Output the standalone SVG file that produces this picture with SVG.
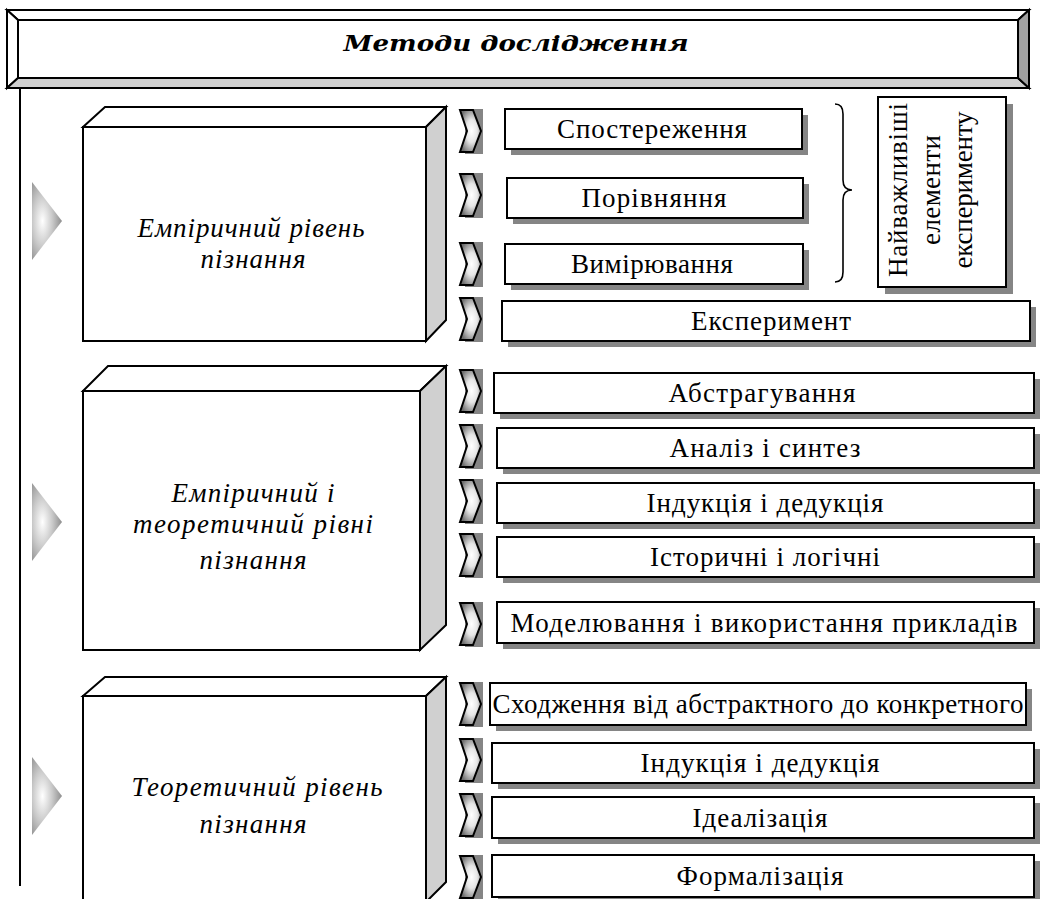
<svg xmlns="http://www.w3.org/2000/svg" xmlns:xlink="http://www.w3.org/1999/xlink" width="1040" height="899" viewBox="0 0 1040 899">
<defs>
<style>
.ln{stroke:#000;stroke-width:2;stroke-linejoin:miter}
.face{fill:#fff;stroke:#000;stroke-width:2}
.side{fill:#d0d0d0;stroke:#000;stroke-width:2}
.sh{fill:#858585}
.box{fill:#fff;stroke:#000;stroke-width:2}
.t{font-family:"Liberation Serif","Times New Roman",serif;font-size:27px;fill:#000;text-anchor:middle}
.it{font-family:"Liberation Serif","Times New Roman",serif;font-size:27px;font-style:italic;fill:#000;text-anchor:middle}
.hd{font-family:"DejaVu Serif",serif;font-size:23px;font-weight:bold;font-style:italic;fill:#000;text-anchor:middle}
</style>
<radialGradient id="chevG" cx="0.55" cy="0.5" r="0.6">
<stop offset="0" stop-color="#ffffff"/>
<stop offset="0.45" stop-color="#e6e6e6"/>
<stop offset="1" stop-color="#6e6e6e"/>
</radialGradient>
<radialGradient id="triG" cx="0.35" cy="0.5" r="0.75">
<stop offset="0" stop-color="#ffffff"/>
<stop offset="0.45" stop-color="#c8c8c8"/>
<stop offset="1" stop-color="#7a7a7a"/>
</radialGradient>
<g id="chev">
<rect x="5" y="-1" width="18" height="45" class="sh"/>
<polygon points="0,0 13,0 21,21 13,42 0,42 7,21" fill="url(#chevG)" stroke="#000" stroke-width="2"/>
</g>
<polygon id="tri" points="0,0 30,39 0,78" fill="url(#triG)"/>
</defs>

<g id="header">
<polygon points="7,10 1029,10 1018,20 18,20" fill="#fff" class="ln"/>
<polygon points="7,10 18,20 18,78 7,88" fill="#fff" class="ln"/>
<polygon points="7,88 18,78 1018,78 1029,88" fill="#d0d0d0" class="ln"/>
<polygon points="1029,10 1029,88 1018,78 1018,20" fill="#a0a0a0" class="ln"/>
<rect x="18" y="20" width="1000" height="58" fill="#fff" class="ln"/>
<text x="516" y="51" class="hd" textLength="345" lengthAdjust="spacingAndGlyphs">Методи дослідження</text>
</g>

<g id="connectors">
<line x1="20" y1="88" x2="20" y2="886" stroke="#000" stroke-width="2"/>
<use xlink:href="#tri" x="32" y="182"/>
<use xlink:href="#tri" x="32" y="483"/>
<use xlink:href="#tri" x="32" y="757"/>
<use xlink:href="#chev" x="460" y="110"/>
<use xlink:href="#chev" x="460" y="174"/>
<use xlink:href="#chev" x="460" y="243"/>
<use xlink:href="#chev" x="460" y="298"/>
<use xlink:href="#chev" x="460" y="370"/>
<use xlink:href="#chev" x="460" y="425"/>
<use xlink:href="#chev" x="460" y="480"/>
<use xlink:href="#chev" x="460" y="534"/>
<use xlink:href="#chev" x="460" y="603"/>
<use xlink:href="#chev" x="460" y="683"/>
<use xlink:href="#chev" x="460" y="739"/>
<use xlink:href="#chev" x="460" y="794"/>
<use xlink:href="#chev" x="460" y="856"/>
<path id="brace" d="M835,104 Q843,104 843,114 L843,180 Q843,190 852,190 Q843,190 843,200 L843,272 Q843,282 835,282" fill="none" stroke="#000" stroke-width="1.6"/>
</g>

<g id="level-empirical">
<polygon points="83,127 105,107 446,107 426,127" class="face"/>
<polygon points="426,127 446,107 446,320 426,341" class="side"/>
<rect x="83" y="127" width="343" height="214" class="face"/>
<text x="251" y="237" class="it" textLength="227" lengthAdjust="spacing">Емпіричний рівень</text>
<text x="253" y="268" class="it" textLength="105" lengthAdjust="spacing">пізнання</text>
</g>

<g id="level-mixed">
<polygon points="83,391 108,366 446,366 420,391" class="face"/>
<polygon points="420,391 446,366 446,625 420,650" class="side"/>
<rect x="83" y="391" width="337" height="259" class="face"/>
<text x="253" y="502" class="it" textLength="163" lengthAdjust="spacing">Емпіричний і</text>
<text x="253" y="533" class="it" textLength="240" lengthAdjust="spacing">теоретичний рівні</text>
<text x="253" y="569" class="it" textLength="107" lengthAdjust="spacing">пізнання</text>
</g>

<g id="level-theoretical">
<polygon points="83,696 105,677 446,677 426,696" class="face"/>
<polygon points="426,696 446,677 446,882 426,902" class="side"/>
<rect x="83" y="696" width="343" height="210" class="face"/>
<text x="257" y="796" class="it" textLength="251" lengthAdjust="spacing">Теоретичний рівень</text>
<text x="253" y="833" class="it" textLength="107" lengthAdjust="spacing">пізнання</text>
</g>

<g id="m-observation">
<rect x="511" y="115" width="297" height="40" class="sh"/>
<rect x="505" y="109" width="297" height="40" class="box"/>
<text x="652" y="138" class="t" textLength="190" lengthAdjust="spacing">Спостереження</text>
</g>
<g id="m-comparison">
<rect x="513" y="184" width="296" height="40" class="sh"/>
<rect x="507" y="178" width="296" height="40" class="box"/>
<text x="654" y="207" class="t" textLength="145" lengthAdjust="spacing">Порівняння</text>
</g>
<g id="m-measurement">
<rect x="511" y="250" width="298" height="40" class="sh"/>
<rect x="505" y="244" width="298" height="40" class="box"/>
<text x="652" y="273" class="t" textLength="162" lengthAdjust="spacing">Вимірювання</text>
</g>
<g id="m-experiment">
<rect x="508" y="307" width="528" height="40" class="sh"/>
<rect x="502" y="301" width="528" height="40" class="box"/>
<text x="771" y="330" class="t" textLength="160" lengthAdjust="spacing">Експеримент</text>
</g>
<g id="note-experiment">
<rect x="885" y="104" width="128" height="190" class="sh"/>
<rect x="878" y="97" width="128" height="190" class="box"/>
<text transform="translate(907,190) rotate(-90)" class="t" textLength="174" lengthAdjust="spacing">Найважливіші</text>
<text transform="translate(940,190) rotate(-90)" class="t" textLength="110" lengthAdjust="spacing">елементи</text>
<text transform="translate(972,190) rotate(-90)" class="t" textLength="157" lengthAdjust="spacing">експерименту</text>
</g>

<g id="m-abstraction">
<rect x="500" y="379" width="540" height="40" class="sh"/>
<rect x="494" y="373" width="540" height="40" class="box"/>
<text x="762" y="402" class="t" textLength="187" lengthAdjust="spacing">Абстрагування</text>
</g>
<g id="m-analysis">
<rect x="503" y="434" width="537" height="40" class="sh"/>
<rect x="497" y="428" width="537" height="40" class="box"/>
<text x="765" y="457" class="t" textLength="191" lengthAdjust="spacing">Аналіз і синтез</text>
</g>
<g id="m-induction-1">
<rect x="503" y="489" width="537" height="40" class="sh"/>
<rect x="497" y="483" width="537" height="40" class="box"/>
<text x="765" y="512" class="t" textLength="237" lengthAdjust="spacing">Індукція і дедукція</text>
</g>
<g id="m-historical">
<rect x="503" y="543" width="537" height="40" class="sh"/>
<rect x="497" y="537" width="537" height="40" class="box"/>
<text x="765" y="566" class="t" textLength="230" lengthAdjust="spacing">Історичні і логічні</text>
</g>
<g id="m-modelling">
<rect x="503" y="608" width="537" height="41" class="sh"/>
<rect x="497" y="602" width="537" height="41" class="box"/>
<text x="764" y="632" class="t" textLength="507" lengthAdjust="spacing">Моделювання і використання прикладів</text>
</g>

<g id="m-ascent">
<rect x="496" y="689" width="536" height="42" class="sh"/>
<rect x="490" y="683" width="536" height="42" class="box"/>
<text x="758" y="713" class="t" textLength="531" lengthAdjust="spacing">Сходження  від абстрактного до конкретного</text>
</g>
<g id="m-induction-2">
<rect x="498" y="749" width="542" height="40" class="sh"/>
<rect x="492" y="743" width="542" height="40" class="box"/>
<text x="760" y="772" class="t" textLength="239" lengthAdjust="spacing">Індукція і дедукція</text>
</g>
<g id="m-idealization">
<rect x="498" y="803" width="542" height="41" class="sh"/>
<rect x="492" y="797" width="542" height="41" class="box"/>
<text x="760" y="827" class="t" textLength="135" lengthAdjust="spacing">Ідеалізація</text>
</g>
<g id="m-formalization">
<rect x="498" y="861" width="542" height="42" class="sh"/>
<rect x="492" y="855" width="542" height="42" class="box"/>
<text x="760" y="885" class="t" textLength="167" lengthAdjust="spacing">Формалізація</text>
</g>
</svg>
